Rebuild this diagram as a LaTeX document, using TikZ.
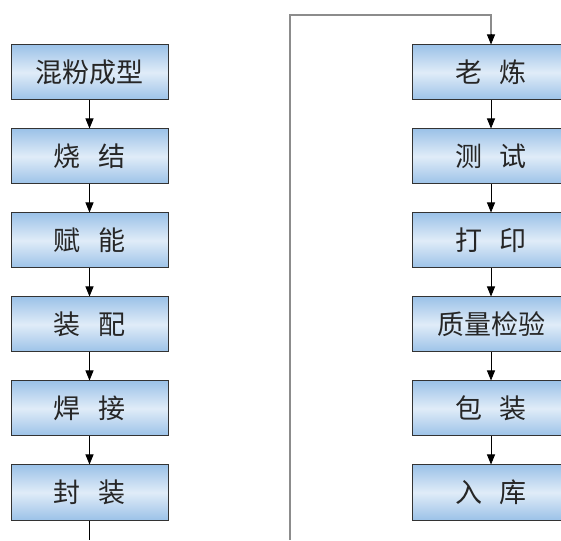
\documentclass[tikz,border=0pt]{standalone}
\usepackage{fontspec}
\newfontfamily\cjk{Noto Sans CJK SC}
\usetikzlibrary{positioning,arrows.meta}
\definecolor{boxdark}{HTML}{9CC2E8}
\definecolor{boxlight}{HTML}{E0ECF8}
\begin{document}
\begin{tikzpicture}[x=1pt,y=1pt,
    stepbox/.style={draw=black!80, line width=1pt, minimum width=157pt, minimum height=55pt,
      top color=boxdark, bottom color=boxdark, middle color=boxlight,
      font=\cjk\fontsize{27}{27}\selectfont, text=black!85, inner sep=0pt},
    flow/.style={-{Triangle[width=8pt,length=10pt]}, line width=0.9pt},
    link/.style={draw=black!45, line width=1.6pt},
    node distance=28pt]
    \useasboundingbox (0,0) rectangle (561,540);
    \clip (0,0) rectangle (561,540);
    %% left column
    \node[stepbox] (mix) at (89.5,467.5) {混粉成型};
    \node[stepbox, below=of mix] (sinter) {烧\hspace{0.65em}结};
    \node[stepbox, below=of sinter] (charge) {赋\hspace{0.65em}能};
    \node[stepbox, below=of charge] (assemble) {装\hspace{0.65em}配};
    \node[stepbox, below=of assemble] (weld) {焊\hspace{0.65em}接};
    \node[stepbox, below=of weld] (seal) {封\hspace{0.65em}装};
    \draw[flow] (mix) -- (sinter);
    \draw[flow] (sinter) -- (charge);
    \draw[flow] (charge) -- (assemble);
    \draw[flow] (assemble) -- (weld);
    \draw[flow] (weld) -- (seal);
    \coordinate (leftend) at (89.5,0);
    \draw[line width=0.9pt] (seal) -- (leftend);
    %% right column
    \node[stepbox] (age) at (491,467.5) {老\hspace{0.65em}炼};
    \node[stepbox, below=of age] (test) {测\hspace{0.65em}试};
    \node[stepbox, below=of test] (print) {打\hspace{0.65em}印};
    \node[stepbox, below=of print] (inspect) {质量检验};
    \node[stepbox, below=of inspect] (pack) {包\hspace{0.65em}装};
    \node[stepbox, below=of pack] (store) {入\hspace{0.65em}库};
    \draw[flow] (age) -- (test);
    \draw[flow] (test) -- (print);
    \draw[flow] (print) -- (inspect);
    \draw[flow] (inspect) -- (pack);
    \draw[flow] (pack) -- (store);
    %% link between columns
    \coordinate (loopbot) at (290,0);
    \coordinate (looptop) at (290,525);
    \draw[link] (loopbot) -- (looptop) -| ([yshift=9pt]age.north);
    \draw[flow] ([yshift=10pt]age.north) -- (age);
\end{tikzpicture}
\end{document}
